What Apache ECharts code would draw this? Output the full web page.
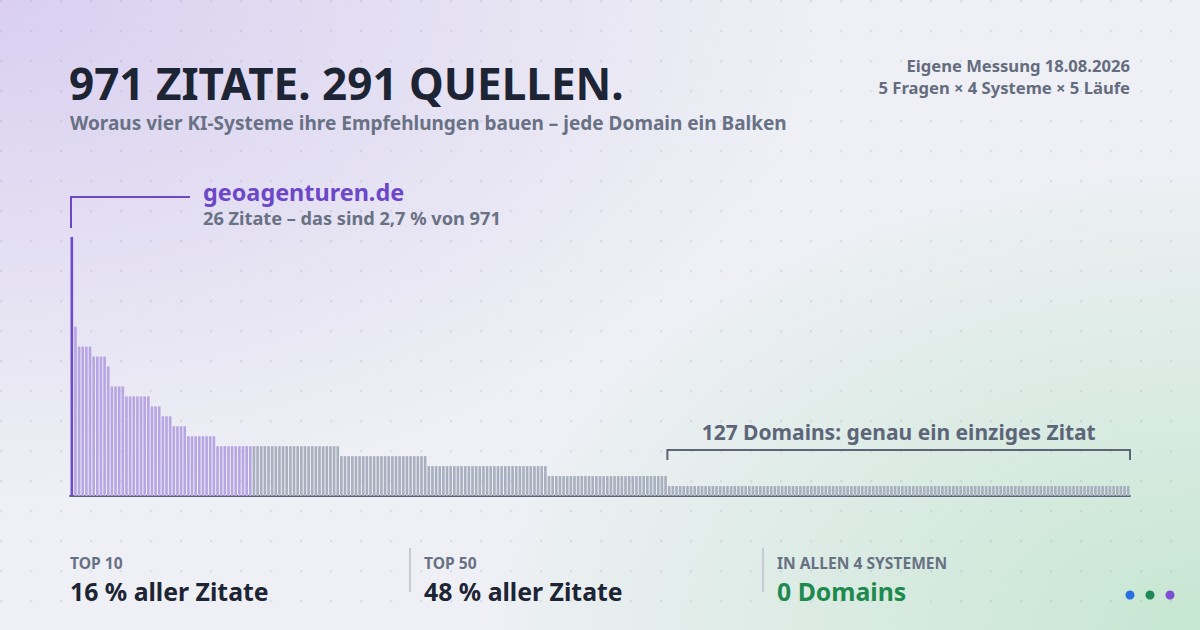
<!DOCTYPE html>
<html>
<head>
<meta charset="utf-8">
<script src="https://cdn.jsdelivr.net/npm/echarts@6/dist/echarts.min.js"></script>
<style>
html,body{margin:0;padding:0;width:1200px;height:630px;overflow:hidden}
body{background:
 radial-gradient(circle at 1px 1px, rgba(110,118,145,0.14) 1.2px, rgba(110,118,145,0) 1.7px) 0 0/30px 30px,
 radial-gradient(ellipse 820px 500px at 0% 0%, rgba(214,201,240,0.85), rgba(214,201,240,0) 100%),
 radial-gradient(ellipse 720px 470px at 100% 100%, rgba(196,230,207,0.95), rgba(196,230,207,0) 100%),
 #eef0f5;}
#chart{width:1200px;height:630px}
</style>
</head>
<body>
<div id="chart"></div>
<script>
// ---- data (citations per domain, sorted descending; 291 domains, 971 citations) ----
const citations = [
  26,
  17,
  15,15,15,15,
  14,14,14,14,
  13,
  11,11,11,11,
  10,10,10,10,10,10,10,
  9,9,9,
  8,8,8,
  7,7,7,7,
  6,6,6,6,6,6,6,6,
  5,5,5,5,5,5,5,5,5,5, 5,5,5,5,5,5,5,5,5,5, 5,5,5,5,5,5,5,5,5,5, 5,5,5,5,
  4,4,4,4,4,4,4,4,4,4, 4,4,4,4,4,4,4,4,4,4, 4,4,4,4,
  3,3,3,3,3,3,3,3,3,3, 3,3,3,3,3,3,3,3,3,3, 3,3,3,3,3,3,3,3,3,3, 3,3,3,
  2,2,2,2,2,2,2,2,2,2, 2,2,2,2,2,2,2,2,2,2, 2,2,2,2,2,2,2,2,2,2, 2,2,2,
  1,1,1,1,1,1,1,1,1,1, 1,1,1,1,1,1,1,1,1,1, 1,1,1,1,1,1,1,1,1,1,
  1,1,1,1,1,1,1,1,1,1, 1,1,1,1,1,1,1,1,1,1, 1,1,1,1,1,1,1,1,1,1,
  1,1,1,1,1,1,1,1,1,1, 1,1,1,1,1,1,1,1,1,1, 1,1,1,1,1,1,1,1,1,1,
  1,1,1,1,1,1,1,1,1,1, 1,1,1,1,1,1,1,1,1,1, 1,1,1,1,1,1,1,1,1,1,
  1,1,1,1,1,1,1
];
const categories = citations.map((v, i) => i === 0 ? 'geoagenturen.de' : 'Domain ' + (i + 1));
const highlightCount = 50;          // top 50 shown in purple
const singleCitationCount = 127;    // domains with exactly one citation

const titleText = '971 ZITATE. 291 QUELLEN.';
const subtitleText = 'Woraus vier KI-Systeme ihre Empfehlungen bauen – jede Domain ein Balken';
const metaLines = ['Eigene Messung 18.08.2026', '5 Fragen × 4 Systeme × 5 Läufe'];
const topLabel = 'geoagenturen.de';
const topNote = '26 Zitate – das sind 2,7 % von 971';
const tailNote = '127 Domains: genau ein einziges Zitat';
const statLabels = ['TOP 10', 'TOP 50', 'IN ALLEN 4 SYSTEMEN'];
const statValues = ['16 % aller Zitate', '48 % aller Zitate', '0 Domains'];

// ---- styles ----
const FONT = '"Noto Sans", "Open Sans", "DejaVu Sans", sans-serif';
const C_DARK = '#1d2434';
const C_GRAY = '#697185';
const C_PURPLE = '#6c47c8';
const C_TOP = '#6e4ccb';
const C_HL = '#b8a5e3';
const C_REST = '#a8afbe';
const C_GREEN = '#1f8a4e';

const chart = echarts.init(document.getElementById('chart'), null, {renderer: 'svg', width: 1200, height: 630});

chart.setOption({
  backgroundColor: 'transparent',
  animation: false,
  grid: {left: 70, right: 70, top: 237, bottom: 134},
  xAxis: {
    type: 'category', data: categories,
    axisLine: {show: true, lineStyle: {color: '#5b6478', width: 2}},
    axisTick: {show: false}, axisLabel: {show: false}, splitLine: {show: false}
  },
  yAxis: {type: 'value', min: 0, max: 26, show: false, splitLine: {show: false}},
  series: [{
    type: 'bar', silent: true,
    barCategoryGap: '28%',
    data: citations.map((v, i) => ({
      value: v,
      itemStyle: {color: i === 0 ? C_TOP : (i < highlightCount ? C_HL : C_REST)}
    }))
  }]
});

// positions derived from the axis scale
const n = citations.length;
const xc = i => chart.convertToPixel({xAxisIndex: 0}, i);
const band = xc(1) - xc(0);
const yv = v => chart.convertToPixel({yAxisIndex: 0}, v);
const tailStart = n - singleCitationCount;
const tailX0 = xc(tailStart) - band / 2;
const tailX1 = xc(n - 1) + band / 2;
const tailY = yv(1) - 36;
const firstX = xc(0) - band / 2 + 1;
const firstTop = yv(citations[0]);

function txt(text, x, y, size, weight, fill, align, lh) {
  return {type: 'text', silent: true, style: {
    text: text, x: x, y: y, fontSize: size, fontWeight: weight, fontFamily: FONT,
    fill: fill, align: align || 'left', verticalAlign: 'middle', lineHeight: lh || Math.round(size)
  }};
}

const graphics = [
  txt(titleText, 69, 83, 44, 700, C_DARK, 'left', 36),
  txt(subtitleText, 70, 123, 19, 700, C_GRAY),
  txt(metaLines[0], 1130, 65, 16.6, 700, '#646c7e', 'right'),
  txt(metaLines[1], 1130, 87, 16.6, 700, '#646c7e', 'right'),
  // top domain annotation
  {type: 'polyline', silent: true, shape: {points: [[firstX, firstTop - 9], [firstX, 197], [190, 197]]},
   style: {stroke: C_PURPLE, lineWidth: 2, fill: 'none'}},
  txt(topLabel, 203, 191.5, 23.4, 700, C_PURPLE, 'left', 22),
  txt(topNote, 203, 217.5, 18.2, 700, C_GRAY, 'left', 17),
  // single-citation bracket
  {type: 'polyline', silent: true,
   shape: {points: [[tailX0, tailY + 10], [tailX0, tailY], [tailX1, tailY], [tailX1, tailY + 10]]},
   style: {stroke: '#5d6679', lineWidth: 2, fill: 'none'}},
  txt(tailNote, (tailX0 + tailX1) / 2, tailY - 18, 21, 700, '#5d6679', 'center'),
  // stats
  txt(statLabels[0], 70, 563, 15.6, 700, C_GRAY),
  txt(statValues[0], 70, 591, 24.8, 700, C_DARK),
  {type: 'line', silent: true, shape: {x1: 410, y1: 548, x2: 410, y2: 592}, style: {stroke: '#c6cbd4', lineWidth: 2}},
  txt(statLabels[1], 424, 563, 15.6, 700, C_GRAY),
  txt(statValues[1], 424, 591, 24.8, 700, C_DARK),
  {type: 'line', silent: true, shape: {x1: 763, y1: 548, x2: 763, y2: 592}, style: {stroke: '#c6cbd4', lineWidth: 2}},
  txt(statLabels[2], 777, 563, 15.6, 700, C_GRAY),
  txt(statValues[2], 777, 591, 24.8, 700, C_GREEN),
  // decorative dots
  {type: 'circle', silent: true, shape: {cx: 1130, cy: 595, r: 4.5}, style: {fill: '#2a6fe0'}},
  {type: 'circle', silent: true, shape: {cx: 1150, cy: 595, r: 4.5}, style: {fill: '#1f8a55'}},
  {type: 'circle', silent: true, shape: {cx: 1170, cy: 595, r: 4.5}, style: {fill: '#7d4fd3'}}
];

chart.setOption({graphic: graphics});
</script>
</body>
</html>
